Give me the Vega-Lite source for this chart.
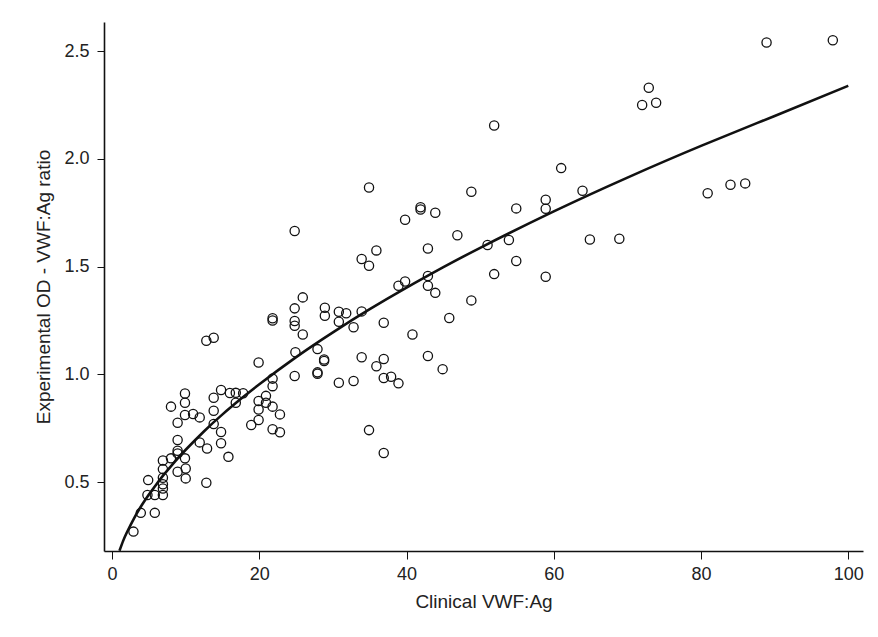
{
  "$schema": "https://vega.github.io/schema/vega-lite/v6.json",
  "autosize": "none",
  "width": 759,
  "height": 529,
  "padding": {"left": 104, "top": 22, "right": 15, "bottom": 86},
  "background": "white",
  "config": {"view": {"stroke": null}},
  "datasets": {
    "points": [
      {"x":2.9,"y":0.27},{"x":3.9,"y":0.357},{"x":5.8,"y":0.357},{"x":4.9,"y":0.509},{"x":4.8,"y":0.44},{"x":5.8,"y":0.44},
      {"x":6.9,"y":0.44},{"x":6.9,"y":0.47},{"x":6.9,"y":0.49},{"x":6.9,"y":0.52},{"x":6.9,"y":0.56},{"x":6.9,"y":0.6},
      {"x":8.0,"y":0.61},{"x":8.0,"y":0.85},{"x":8.9,"y":0.548},{"x":8.9,"y":0.633},{"x":8.9,"y":0.645},{"x":8.9,"y":0.695},
      {"x":8.9,"y":0.775},{"x":9.9,"y":0.911},{"x":9.9,"y":0.868},{"x":9.9,"y":0.811},{"x":9.9,"y":0.61},{"x":10.0,"y":0.563},
      {"x":10.0,"y":0.517},{"x":11.0,"y":0.816},{"x":11.9,"y":0.8},{"x":11.9,"y":0.684},{"x":12.9,"y":0.656},{"x":12.8,"y":0.497},
      {"x":12.8,"y":1.156},{"x":13.8,"y":1.17},{"x":13.8,"y":0.891},{"x":13.8,"y":0.831},{"x":13.8,"y":0.769},{"x":14.8,"y":0.927},
      {"x":14.8,"y":0.732},{"x":14.8,"y":0.68},{"x":15.8,"y":0.617},{"x":16.0,"y":0.913},{"x":16.8,"y":0.914},{"x":16.8,"y":0.868},
      {"x":17.8,"y":0.912},{"x":18.9,"y":0.765},{"x":19.9,"y":1.055},{"x":19.9,"y":0.876},{"x":19.9,"y":0.837},{"x":19.9,"y":0.788},
      {"x":20.9,"y":0.9},{"x":20.9,"y":0.868},{"x":21.8,"y":1.25},{"x":21.8,"y":1.26},{"x":21.8,"y":0.98},{"x":21.8,"y":0.945},
      {"x":21.8,"y":0.85},{"x":21.8,"y":0.745},{"x":22.8,"y":0.814},{"x":22.8,"y":0.731},
      {"x":24.8,"y":1.665},{"x":24.8,"y":1.306},{"x":24.8,"y":1.247},{"x":24.8,"y":1.225},{"x":24.9,"y":1.102},{"x":24.8,"y":0.992},
      {"x":25.9,"y":1.357},{"x":25.9,"y":1.185},{"x":27.9,"y":1.117},{"x":27.9,"y":1.009},{"x":27.9,"y":1.003},{"x":28.8,"y":1.069},
      {"x":28.8,"y":1.062},{"x":28.9,"y":1.309},{"x":28.9,"y":1.272},{"x":30.8,"y":1.29},{"x":30.8,"y":1.244},{"x":30.8,"y":0.961},
      {"x":31.8,"y":1.283},{"x":32.8,"y":1.218},{"x":32.8,"y":0.969},{"x":33.9,"y":1.535},{"x":33.9,"y":1.292},{"x":33.9,"y":1.079},
      {"x":34.9,"y":1.867},{"x":34.9,"y":1.504},{"x":34.9,"y":0.741},{"x":35.9,"y":1.575},{"x":35.9,"y":1.037},{"x":36.9,"y":1.239},
      {"x":36.9,"y":1.071},{"x":36.9,"y":0.983},{"x":36.9,"y":0.635},{"x":37.9,"y":0.989},{"x":38.9,"y":1.411},{"x":38.9,"y":0.958},
      {"x":39.8,"y":1.717},{"x":39.8,"y":1.431},{"x":40.8,"y":1.185},{"x":41.9,"y":1.775},{"x":41.9,"y":1.765},{"x":42.9,"y":1.584},
      {"x":42.9,"y":1.456},{"x":42.9,"y":1.411},{"x":42.9,"y":1.085},{"x":43.9,"y":1.75},{"x":43.9,"y":1.378},{"x":44.9,"y":1.024},
      {"x":45.8,"y":1.261},{"x":46.9,"y":1.645},{"x":48.8,"y":1.847},{"x":48.8,"y":1.343},{"x":51.0,"y":1.6},{"x":51.9,"y":2.155},
      {"x":51.9,"y":1.465},{"x":53.9,"y":1.623},{"x":54.9,"y":1.77},{"x":54.9,"y":1.526},{"x":58.9,"y":1.81},{"x":58.9,"y":1.768},
      {"x":58.9,"y":1.453},{"x":61.0,"y":1.957},{"x":63.9,"y":1.852},{"x":64.9,"y":1.626},{"x":68.9,"y":1.629},{"x":72.0,"y":2.25},
      {"x":72.9,"y":2.33},{"x":73.9,"y":2.26},{"x":80.9,"y":1.84},{"x":84.0,"y":1.88},{"x":86.0,"y":1.886},{"x":88.9,"y":2.54},
      {"x":97.9,"y":2.55}
    ],
    "curve": [
      {"x":1,"y":0.181},{"x":1.5,"y":0.227},{"x":2,"y":0.266},{"x":3,"y":0.333},{"x":4,"y":0.391},{"x":5,"y":0.442},
      {"x":6,"y":0.489},{"x":7,"y":0.533},{"x":8.5,"y":0.594},{"x":10,"y":0.65},{"x":12.5,"y":0.736},{"x":15,"y":0.814},
      {"x":17.5,"y":0.886},{"x":20,"y":0.954},{"x":25,"y":1.08},{"x":30,"y":1.195},{"x":35,"y":1.302},
      {"x":40,"y":1.402},{"x":45,"y":1.497},{"x":50,"y":1.587},{"x":60,"y":1.756},{"x":70,"y":1.913},{"x":80,"y":2.06},{"x":90,"y":2.199},
      {"x":100,"y":2.339}
    ]
  },
  "encoding": {
    "x": {
      "field": "x", "type": "quantitative",
      "scale": {"domain": [-1.1, 102], "nice": false, "zero": false},
      "axis": {
        "title": "Clinical VWF:Ag", "values": [0, 20, 40, 60, 80, 100],
        "grid": false, "domainColor": "#111", "domainWidth": 1.6, "tickColor": "#111", "tickSize": 8, "tickWidth": 1,
        "labelFont": "Liberation Sans", "labelFontSize": 18, "labelColor": "#222", "labelPadding": 6,
        "titleFont": "Liberation Sans", "titleFontSize": 19, "titleFontWeight": "normal", "titleColor": "#222", "titlePadding": 9
      }
    },
    "y": {
      "field": "y", "type": "quantitative",
      "scale": {"domain": [0.18, 2.635], "nice": false, "zero": false},
      "axis": {
        "title": "Experimental OD - VWF:Ag ratio", "values": [0.5, 1.0, 1.5, 2.0, 2.5], "format": ".1f",
        "grid": false, "domainColor": "#111", "domainWidth": 1.6, "tickColor": "#111", "tickSize": 7, "tickWidth": 1,
        "labelFont": "Liberation Sans", "labelFontSize": 18, "labelColor": "#222", "labelPadding": 8,
        "titleFont": "Liberation Sans", "titleFontSize": 19, "titleFontWeight": "normal", "titleColor": "#222", "titlePadding": 10
      }
    }
  },
  "layer": [
    {
      "data": {"name": "points"},
      "mark": {"type": "point", "filled": false, "stroke": "#111", "strokeWidth": 1.3, "size": 85, "opacity": 1}
    },
    {
      "data": {"name": "curve"},
      "mark": {"type": "line", "color": "#111", "strokeWidth": 2.6, "interpolate": "natural", "clip": true}
    },
    {
      "data": {"values": [{"label": "R² = 0.794"}]},
      "mark": {"type": "text", "align": "left", "baseline": "alphabetic", "font": "Liberation Sans", "fontSize": 17, "color": "#222"},
      "encoding": {
        "x": {"datum": 64.5, "type": "quantitative"},
        "y": {"datum": 0.848, "type": "quantitative"},
        "text": {"field": "label"}
      }
    }
  ]
}
